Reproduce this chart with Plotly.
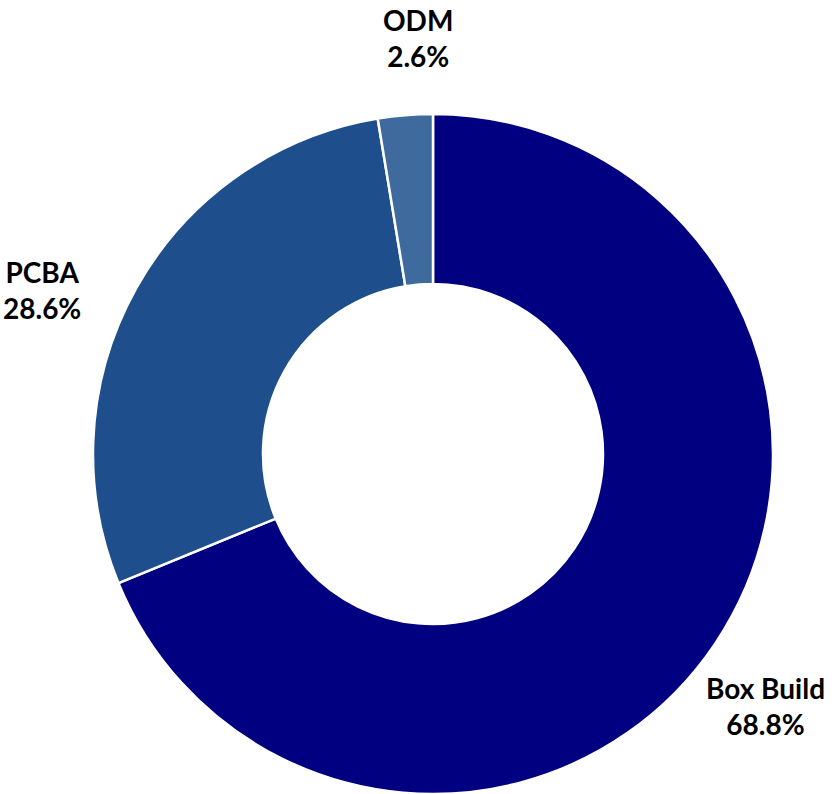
import plotly.graph_objects as go

categories = ["Box Build", "PCBA", "ODM"]
values = [68.8, 28.6, 2.6]
colors = ["#000080", "#1F4E8C", "#3E6A9E"]

W, H = 834, 794
# label anchor positions (pixels from top-left)
label_pos = {"Box Build": (765, 706), "PCBA": (42, 290), "ODM": (418, 38)}

fig = go.Figure(go.Pie(
    labels=categories, values=values, sort=False, direction="clockwise", rotation=0,
    hole=0.5, marker=dict(colors=colors, line=dict(color="white", width=2.5)),
    textinfo="none", hoverinfo="label+percent",
    domain=dict(x=[92 / W, 774 / W], y=[0, 1 - 114 / H]),
    showlegend=False,
))

for c, v in zip(categories, values):
    px, py = label_pos[c]
    fig.add_annotation(
        x=px / W, y=1 - py / H, xref="paper", yref="paper",
        text=f"<b>{c}</b><br><b>{v:.1f}%</b>", showarrow=False,
        font=dict(family="Lato", size=28, color="black"),
        xanchor="center", yanchor="middle", align="center",
    )

fig.update_layout(width=W, height=H, margin=dict(l=0, r=0, t=0, b=0),
                  paper_bgcolor="white", plot_bgcolor="white")
fig.write_html("out.html", config={"displayModeBar": False},
               post_script="document.body.style.margin='0';")
